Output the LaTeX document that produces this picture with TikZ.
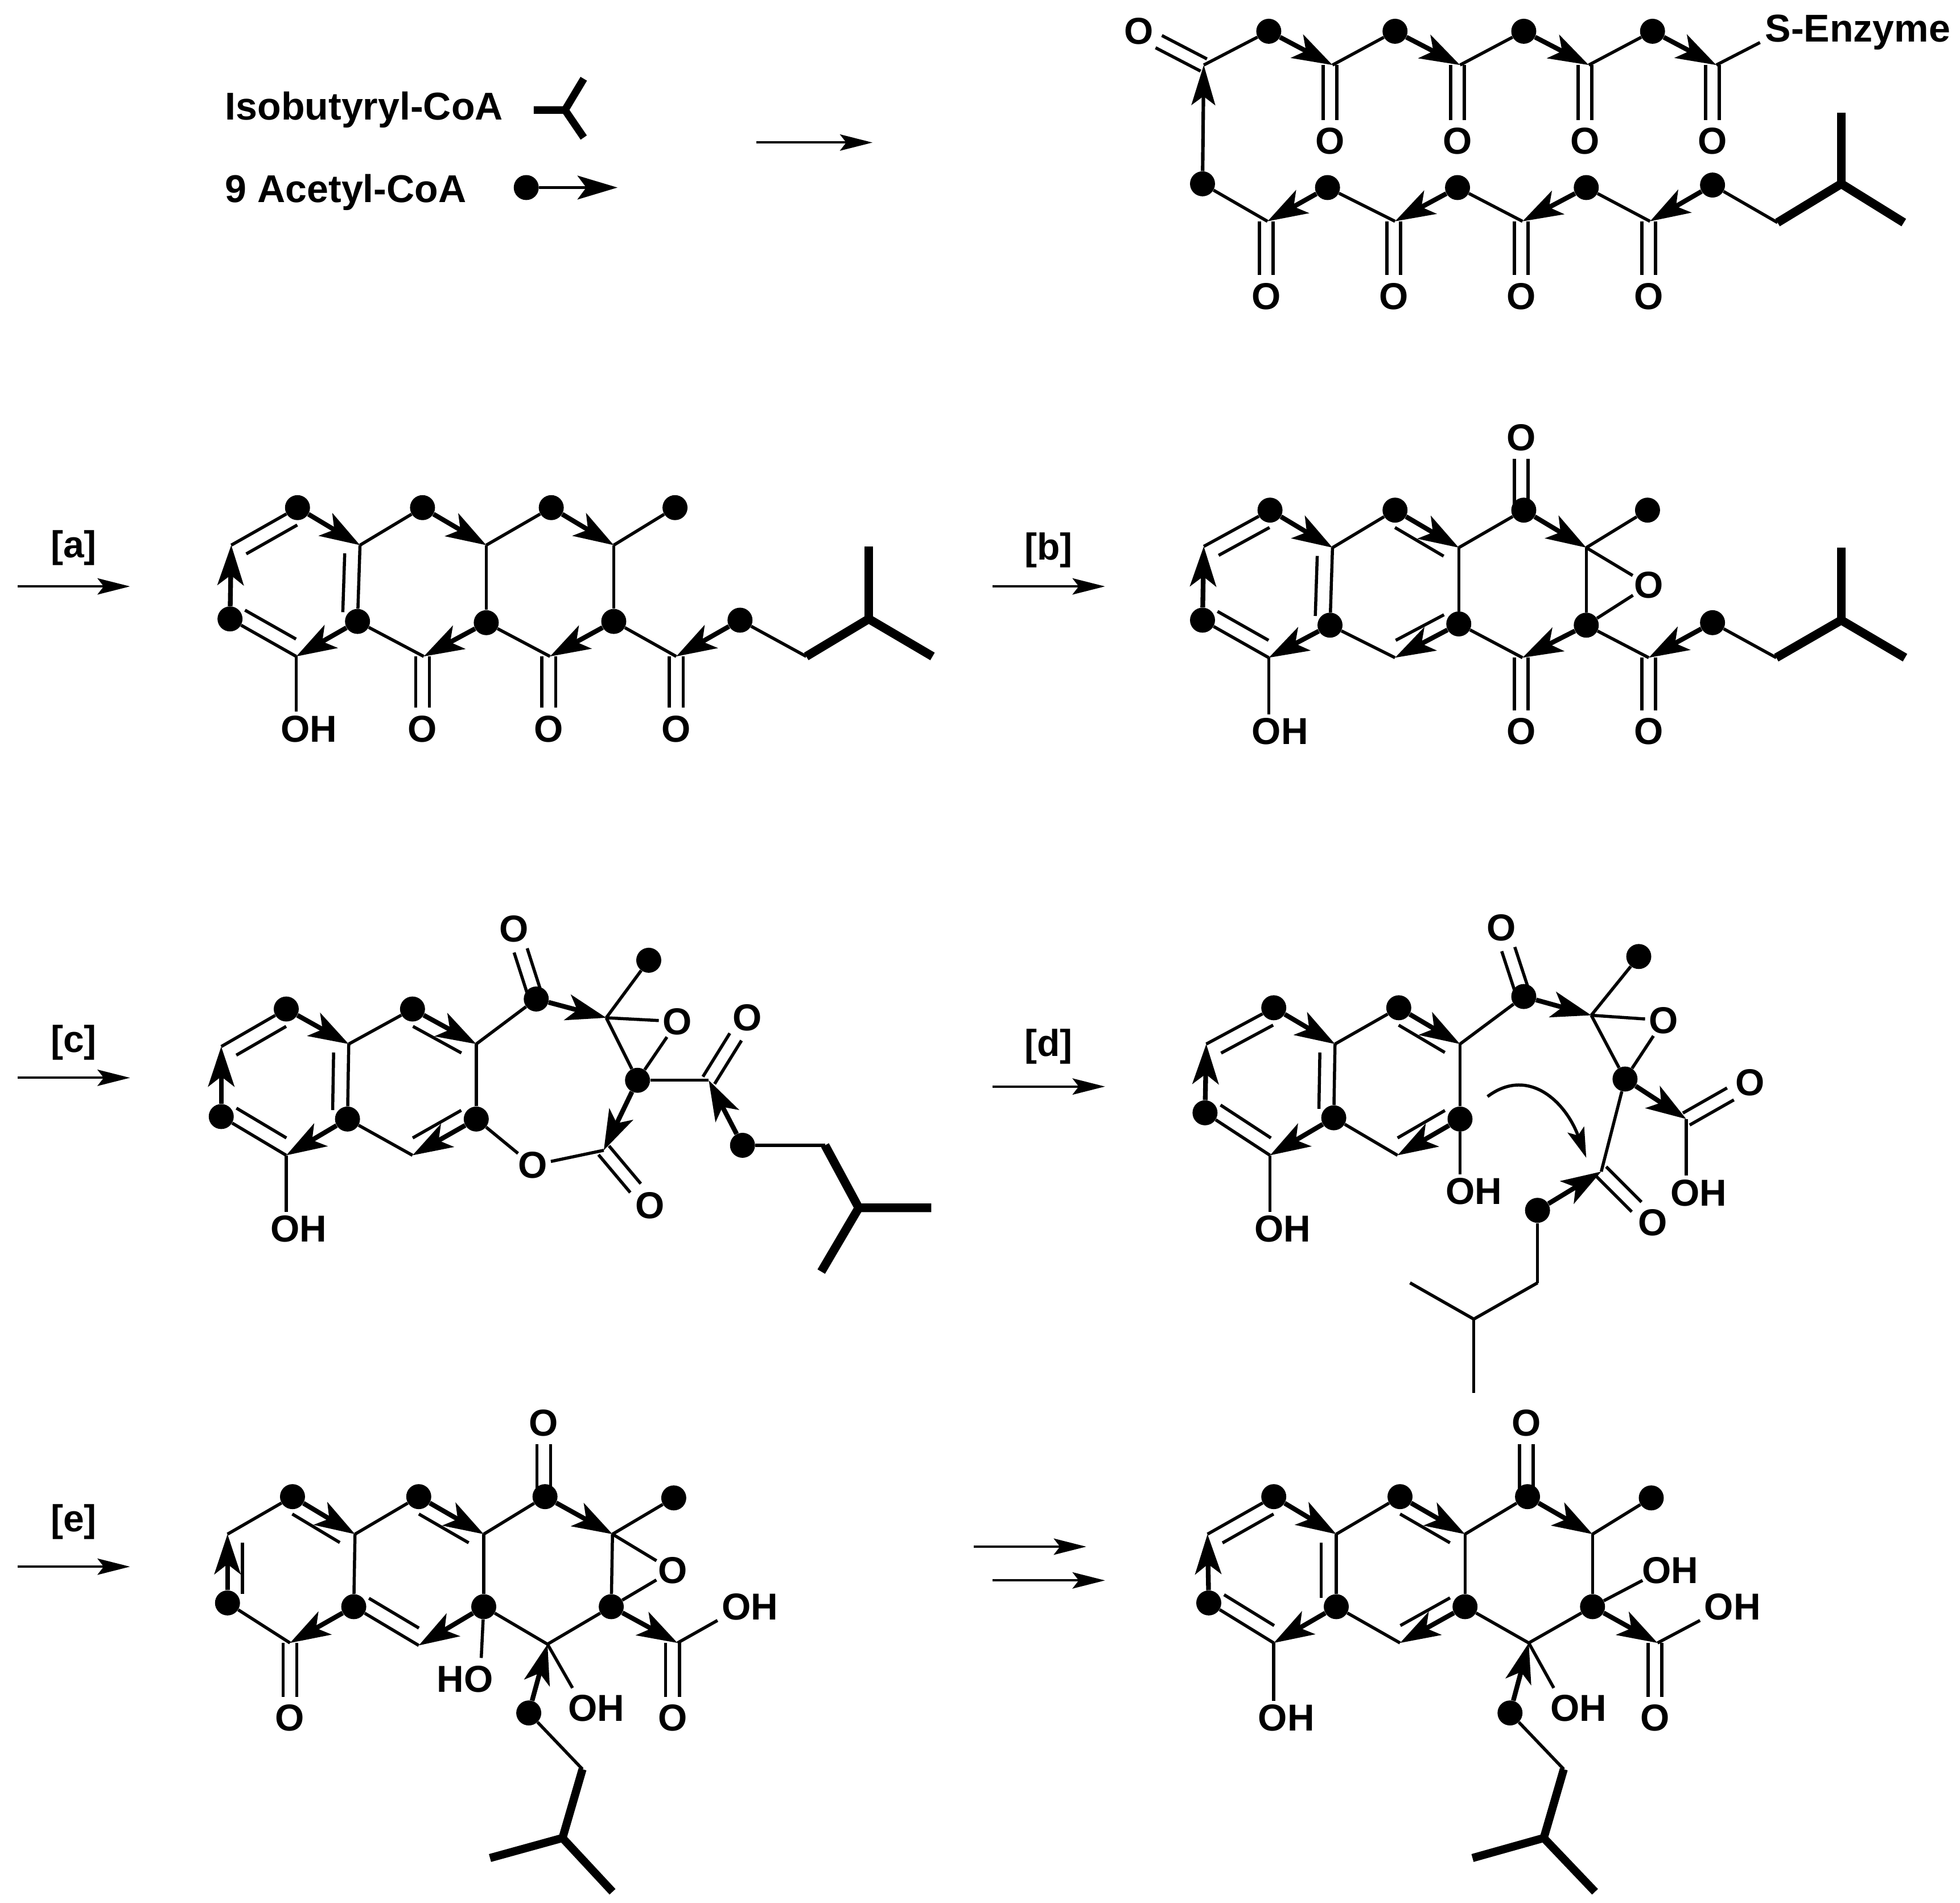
\documentclass[tikz,border=0pt]{standalone}
\usepackage{fontspec}
\setmainfont{Liberation Sans}
\usetikzlibrary{arrows.meta,calc}
\tikzset{
  bond/.style={line width=2.5pt},
  heavy/.style={line width=7pt,line join=miter},
  acet/.style={line width=3.8pt,-{Stealth[length=32pt,width=21pt,inset=8pt]}},
  rxn/.style={line width=1.9pt,-{Stealth[length=26pt,width=13pt,inset=5pt]}},
  dot/.style={circle,fill=black,inner sep=0pt,minimum size=20pt},
  lab/.style={font=\bfseries\fontsize{30}{30}\selectfont,inner sep=3pt},
  leg/.style={font=\bfseries\fontsize{31}{31}\selectfont,inner sep=0pt,anchor=west},
}
\newcommand\At[3]{\coordinate (#1) at (#2,#3);}
\newcommand\Dt[3]{\node[dot] (#1) at (#2,#3) {};}
\newcommand\Lb[4]{\node[lab] (#1) at (#2,#3) {#4};}
\newcommand\dblO[2]{%
  \draw[bond,shorten >=18pt] ($(#1)!5.5pt!90:(#2.center)$) -- ($(#2.center)!5.5pt!-90:(#1)$);
  \draw[bond,shorten >=18pt] ($(#1)!5.5pt!-90:(#2.center)$) -- ($(#2.center)!5.5pt!90:(#1)$);}
\newcommand\dblV[2]{%
  \draw[bond] ($(#2.center |- #1)+(-5.5,0)$) -- ($(#2.center)+(-5.5,-17)$);
  \draw[bond] ($(#2.center |- #1)+(5.5,0)$) -- ($(#2.center)+(5.5,-17)$);}
\newcommand\dblU[2]{%
  \draw[bond] ($(#2.center |- #1)+(-5.5,0)$) -- ($(#2.center)+(-5.5,17)$);
  \draw[bond] ($(#2.center |- #1)+(5.5,0)$) -- ($(#2.center)+(5.5,17)$);}
\newcommand\dblIn[2]{%
  \draw[bond,shorten >=7pt,shorten <=7pt] ($(#1)!12pt!90:(#2)$) -- ($(#2)!12pt!-90:(#1)$);}
\newcommand\bd[2]{\draw[bond] (#1) -- (#2);}
\newcommand\bl[2]{\draw[bond,shorten >=15pt] (#1) -- (#2.center);}
\newcommand\ar[2]{\draw[acet] (#1) -- (#2);}
\begin{document}
\begin{tikzpicture}[x=1pt,y=-1pt]
\useasboundingbox (0,0) rectangle (1568,1521.6);
% --- legend
\node[leg] (iso) at (180,88) {Isobutyryl-CoA};
\node[leg] (ace) at (180,154) {9 Acetyl-CoA};
\At{Y0}{427}{88}\At{Y1}{452}{88}\At{Y2}{467}{63}\At{Y3}{467}{110}
\draw[line width=6pt] (Y0) -- (Y1) -- (Y2);
\draw[line width=6pt] (Y1) -- (Y3);
\Dt{Ld}{421}{150}\At{Le}{494}{150}
\draw[line width=2.6pt,-{Stealth[length=32pt,width=19pt,inset=7pt]}] (Ld) -- (Le);
\At{R0a}{605}{114}\At{R0b}{698}{114}\draw[rxn] (R0a) -- (R0b);
% --- reaction arrows
\Lb{La}{59}{438}{[a]}\At{Raa}{14}{469}\At{Rab}{104}{469}\draw[rxn] (Raa) -- (Rab);
\Lb{Lb}{839}{440}{[b]}\At{Rba}{794}{469}\At{Rbb}{884}{469}\draw[rxn] (Rba) -- (Rbb);
\Lb{Lc}{59}{834}{[c]}\At{Rca}{14}{862}\At{Rcb}{104}{862}\draw[rxn] (Rca) -- (Rcb);
\Lb{Ldd}{839}{837}{[d]}\At{Rda}{794}{869}\At{Rdb}{884}{869}\draw[rxn] (Rda) -- (Rdb);
\Lb{Le2}{59}{1217}{[e]}\At{Rea}{14}{1253}\At{Reb}{104}{1253}\draw[rxn] (Rea) -- (Reb);
\At{Rfa}{779}{1237}\At{Rfb}{869}{1237}\draw[rxn] (Rfa) -- (Rfb);
\At{Rga}{794}{1264}\At{Rgb}{884}{1264}\draw[rxn] (Rga) -- (Rgb);
% --- top chain T
\Lb{TO0}{911}{25}{O}\Lb{TO1}{1064}{113}{O}\Lb{TO2}{1166}{113}{O}\Lb{TO3}{1268}{113}{O}\Lb{TO4}{1370}{113}{O}
\node[leg] (TS) at (1412,26) {S-Enzyme};
\At{T0}{963}{52}\Dt{T1}{1015}{25}\At{T2}{1066}{52}\Dt{T3}{1116}{25}\At{T4}{1168}{52}\Dt{T5}{1219}{25}\At{T6}{1271}{52}\Dt{T7}{1322}{25}\At{T8}{1373}{52}\At{T9}{1408}{34}
\dblO{T0}{TO0}\dblV{T2}{TO1}\dblV{T4}{TO2}\dblV{T6}{TO3}\dblV{T8}{TO4}
\bd{T0}{T1}\bd{T2}{T3}\bd{T4}{T5}\bd{T6}{T7}\bd{T8}{T9}
\ar{T1}{T2}\ar{T3}{T4}\ar{T5}{T6}\ar{T7}{T8}
\Dt{U0}{962}{147}\draw[line width=2.8pt,-{Stealth[length=32pt,width=19pt,inset=7pt]}] (U0) -- (T0);
\Lb{UO1}{1013}{237}{O}\Lb{UO2}{1115}{237}{O}\Lb{UO3}{1217}{237}{O}\Lb{UO4}{1319}{237}{O}
\At{U1}{1014}{177}\Dt{U2}{1062}{150}\At{U3}{1116}{177}\Dt{U4}{1166}{150}\At{U5}{1218}{177}\Dt{U6}{1269}{150}\At{U7}{1320}{177}\Dt{U8}{1370}{148}\At{U9}{1422}{178}\At{U10}{1473}{147}\At{U11}{1473}{90}\At{U12}{1523}{178}
\dblV{U1}{UO1}\dblV{U3}{UO2}\dblV{U5}{UO3}\dblV{U7}{UO4}
\bd{U0}{U1}\bd{U2}{U3}\bd{U4}{U5}\bd{U6}{U7}\bd{U8}{U9}
\ar{U2}{U1}\ar{U4}{U3}\ar{U6}{U5}\ar{U8}{U7}
\draw[heavy] (U9) -- (U10) -- (U12);\draw[heavy] (U10) -- (U11);
% --- molecule A
\Lb{AOH}{247}{583}{OH}\Lb{AO1}{338}{583}{O}\Lb{AO2}{439}{583}{O}\Lb{AO3}{541}{583}{O}
\At{A1}{185}{436}\Dt{A2}{238}{406}\At{A3}{288}{436}\Dt{A4}{338}{406}\At{A5}{389}{436}\Dt{A6}{441}{406}\At{A7}{491}{436}\Dt{A8}{540}{406}
\Dt{A9}{184}{495}\At{A10}{237}{525}\Dt{A11}{286}{497}\At{A12}{339}{525}\Dt{A13}{389}{498}\At{A14}{440}{525}\Dt{A15}{491}{497}\At{A16}{541}{525}\Dt{A17}{592}{496}\At{A18}{645}{525}\At{A19}{695}{495}\At{A20}{695}{437}\At{A21}{746}{525}
\bd{A1}{A2}\bd{A3}{A4}\bd{A5}{A6}\bd{A7}{A8}\bd{A3}{A11}\bd{A5}{A13}\bd{A7}{A15}\bd{A9}{A10}\bd{A11}{A12}\bd{A13}{A14}\bd{A15}{A16}\bd{A17}{A18}
\dblIn{A2}{A1}\dblIn{A9}{A10}\dblIn{A11}{A3}
\draw[bond] (A10) -- (A10 |- AOH.north);
\dblV{A12}{AO1}\dblV{A14}{AO2}\dblV{A16}{AO3}
\ar{A2}{A3}\ar{A4}{A5}\ar{A6}{A7}\ar{A9}{A1}\ar{A11}{A10}\ar{A13}{A12}\ar{A15}{A14}\ar{A17}{A16}
\draw[heavy] (A18) -- (A19) -- (A21);\draw[heavy] (A19) -- (A20);
% --- molecule B
\Lb{BOH}{1024}{585}{OH}\Lb{BOt}{1217}{350}{O}\Lb{BO2}{1217}{585}{O}\Lb{BO3}{1319}{585}{O}\Lb{BE}{1319}{468}{O}
\At{B1}{963}{437}\Dt{B2}{1016}{408}\At{B3}{1066}{438}\Dt{B4}{1116}{408}\At{B5}{1167}{438}\Dt{B6}{1219}{408}\At{B7}{1269}{438}\Dt{B8}{1318}{408}
\Dt{B9}{962}{496}\At{B10}{1015}{526}\Dt{B11}{1064}{500}\At{B12}{1116}{526}\Dt{B13}{1167}{499}\At{B14}{1218}{526}\Dt{B15}{1269}{500}\At{B16}{1319}{526}\Dt{B17}{1370}{498}\At{B18}{1421}{526}\At{B19}{1473}{496}\At{B20}{1473}{438}\At{B21}{1524}{526}
\bd{B1}{B2}\bd{B3}{B4}\bd{B5}{B6}\bd{B7}{B8}\bd{B3}{B11}\bd{B5}{B13}\bd{B7}{B15}\bd{B9}{B10}\bd{B11}{B12}\bd{B13}{B14}\bd{B15}{B16}\bd{B17}{B18}
\dblIn{B2}{B1}\dblIn{B9}{B10}\dblIn{B11}{B3}\dblIn{B5}{B4}\dblIn{B12}{B13}
\draw[bond] (B10) -- (B10 |- BOH.north);
\dblU{B6}{BOt}\dblV{B14}{BO2}\dblV{B16}{BO3}
\bl{B7}{BE}\bl{B15}{BE}
\ar{B2}{B3}\ar{B4}{B5}\ar{B6}{B7}\ar{B9}{B1}\ar{B11}{B10}\ar{B13}{B12}\ar{B15}{B14}\ar{B17}{B16}
\draw[heavy] (B18) -- (B19) -- (B21);\draw[heavy] (B19) -- (B20);
% --- molecule C
\Lb{COH}{239}{983}{OH}\Lb{CO1}{411}{743}{O}\Lb{CE}{542}{817}{O}\Lb{CLO}{426}{932}{O}\Lb{CO2}{520}{964}{O}\Lb{CO3}{598}{814}{O}
\At{C1}{177}{837}\Dt{C2}{229}{807}\At{C3}{279}{835}\Dt{C4}{330}{807}\At{C5}{381}{835}
\Dt{C9}{177}{893}\At{C10}{229}{924}\Dt{C11}{278}{895}\At{C12}{330}{924}\Dt{C13}{381}{895}
\Dt{C6}{429}{799}\At{C7}{485}{814}\Dt{C8}{519}{768}\Dt{C14}{510}{864}\At{C15}{483}{920}\At{C16}{567}{864}\Dt{C17}{594}{916}\At{C18}{660}{916}\At{C19}{687}{966}\At{C20}{745}{966}\At{C21}{657}{1017}
\bd{C1}{C2}\bd{C3}{C4}\bd{C3}{C11}\bd{C5}{C13}\bd{C9}{C10}\bd{C11}{C12}\bd{C5}{C6}\bd{C7}{C8}\bd{C7}{C14}\bd{C14}{C16}\bd{C17}{C18}
\dblIn{C2}{C1}\dblIn{C9}{C10}\dblIn{C11}{C3}\dblIn{C5}{C4}\dblIn{C12}{C13}
\draw[bond] (C10) -- (C10 |- COH.north);
\dblO{C6}{CO1}\dblO{C15}{CO2}\dblO{C16}{CO3}
\bl{C7}{CE}\bl{C14}{CE}\bl{C13}{CLO}\bl{C15}{CLO}
\ar{C2}{C3}\ar{C4}{C5}\ar{C6}{C7}\ar{C9}{C1}\ar{C11}{C10}\ar{C13}{C12}\ar{C14}{C15}\ar{C17}{C16}
\draw[heavy] (C18) -- (C19) -- (C20);\draw[heavy] (C19) -- (C21);
% --- molecule D
\Lb{DOH}{1026}{983}{OH}\Lb{DOH2}{1179}{953}{OH}\Lb{DO1}{1201}{742}{O}\Lb{DE}{1331}{816}{O}\Lb{DO2}{1400}{866}{O}\Lb{DOH3}{1359}{954}{OH}\Lb{DO3}{1322}{978}{O}
\At{D1}{965}{835}\Dt{D2}{1019}{806}\At{D3}{1068}{835}\Dt{D4}{1119}{806}\At{D5}{1168}{835}
\Dt{D9}{964}{890}\At{D10}{1016}{924}\Dt{D11}{1067}{894}\At{D12}{1118}{924}\Dt{D13}{1168}{895}
\Dt{D6}{1219}{797}\At{D7}{1273}{812}\Dt{D8}{1311}{765}\Dt{D14}{1300}{863}\At{D15}{1349}{895}\At{D16}{1281}{937}\Dt{D17}{1230}{968}\At{D18}{1230}{1026}\At{D19}{1179}{1055}\At{D20}{1128}{1026}\At{D21}{1179}{1114}
\At{Dc1}{1190}{877}\At{Dc2}{1269}{926}
\bd{D1}{D2}\bd{D3}{D4}\bd{D3}{D11}\bd{D5}{D13}\bd{D9}{D10}\bd{D11}{D12}\bd{D5}{D6}\bd{D7}{D8}\bd{D7}{D14}\bd{D14}{D16}\bd{D17}{D18}
\draw[bond] (D18) -- (D19) -- (D20);\bd{D19}{D21}
\dblIn{D2}{D1}\dblIn{D9}{D10}\dblIn{D11}{D3}\dblIn{D5}{D4}\dblIn{D12}{D13}
\draw[bond] (D10) -- (D10 |- DOH.north);
\draw[bond] (D13) -- (D13 |- DOH2.north);
\draw[bond] (D15) -- (D15 |- DOH3.north);
\dblO{D6}{DO1}\dblO{D15}{DO2}\dblO{D16}{DO3}
\bl{D7}{DE}\bl{D14}{DE}
\ar{D2}{D3}\ar{D4}{D5}\ar{D6}{D7}\ar{D9}{D1}\ar{D11}{D10}\ar{D13}{D12}\ar{D14}{D15}\ar{D17}{D16}
\draw[bond,-{Stealth[length=24pt,width=14pt,inset=5pt]}] (Dc1) .. controls (1222,853) and (1252,880) .. (Dc2);
% --- molecule E
\Lb{EO0}{435}{1138}{O}\Lb{EO1}{232}{1374}{O}\Lb{EE}{538}{1256}{O}\Lb{EO2}{538}{1374}{O}\Lb{EOH1}{600}{1285}{OH}\Lb{EHO}{372}{1343}{HO}\Lb{EOH2}{477}{1366}{OH}
\At{E1}{182}{1227}\Dt{E2}{234}{1197}\At{E3}{284}{1227}\Dt{E4}{335}{1197}\At{E5}{387}{1227}\Dt{E6}{436}{1197}\At{E7}{490}{1227}\Dt{E8}{539}{1198}
\Dt{E9}{182}{1282}\At{E10}{232}{1314}\Dt{E11}{283}{1285}\At{E12}{335}{1316}\Dt{E13}{387}{1285}\At{E14}{438}{1315}\Dt{E15}{489}{1285}\At{E16}{542}{1314}
\At{Ee1}{574}{1296}\At{Ee2}{385}{1326}\At{Ee3}{458}{1350}
\Dt{E17}{423}{1370}\At{E18}{466}{1415}\At{E19}{450}{1470}\At{E20}{392}{1486}\At{E21}{490}{1513}
\bd{E1}{E2}\bd{E3}{E4}\bd{E5}{E6}\bd{E7}{E8}\bd{E3}{E11}\bd{E5}{E13}\bd{E7}{E15}\bd{E9}{E10}\bd{E11}{E12}\bd{E13}{E14}\bd{E15}{E14}\bd{E16}{Ee1}\bd{E13}{Ee2}\bd{E14}{Ee3}\bd{E17}{E18}
\dblIn{E1}{E9}\dblIn{E3}{E2}\dblIn{E5}{E4}\dblIn{E11}{E12}
\dblU{E6}{EO0}\dblV{E10}{EO1}\dblV{E16}{EO2}
\bl{E7}{EE}\bl{E15}{EE}
\ar{E2}{E3}\ar{E4}{E5}\ar{E6}{E7}\ar{E9}{E1}\ar{E11}{E10}\ar{E13}{E12}\ar{E15}{E16}\ar{E17}{E14}
\draw[line width=6.5pt] (E18) -- (E19) -- (E20);\draw[line width=6.5pt] (E19) -- (E21);
% --- molecule F
\Lb{FO0}{1221}{1138}{O}\Lb{FOH0}{1029}{1374}{OH}\Lb{FO2}{1324}{1374}{O}\Lb{FOH1}{1386}{1285}{OH}\Lb{FOH2}{1336}{1256}{OH}\Lb{FOH3}{1263}{1366}{OH}
\At{F1}{966}{1227}\Dt{F2}{1019}{1197}\At{F3}{1069}{1227}\Dt{F4}{1120}{1197}\At{F5}{1172}{1227}\Dt{F6}{1222}{1197}\At{F7}{1274}{1227}\Dt{F8}{1321}{1198}
\Dt{F9}{967}{1282}\At{F10}{1019}{1314}\Dt{F11}{1069}{1285}\At{F12}{1120}{1314}\Dt{F13}{1172}{1285}\At{F14}{1223}{1314}\Dt{F15}{1274}{1285}\At{F16}{1326}{1314}
\At{Fe1}{1360}{1296}\At{Fe2}{1314}{1264}\At{Fe3}{1243}{1350}
\Dt{F17}{1208}{1370}\At{F18}{1251}{1415}\At{F19}{1235}{1470}\At{F20}{1178}{1486}\At{F21}{1276}{1513}
\bd{F1}{F2}\bd{F3}{F4}\bd{F5}{F6}\bd{F7}{F8}\bd{F3}{F11}\bd{F5}{F13}\bd{F7}{F15}\bd{F9}{F10}\bd{F11}{F12}\bd{F13}{F14}\bd{F15}{F14}\bd{F16}{Fe1}\bd{F15}{Fe2}\bd{F14}{Fe3}\bd{F17}{F18}
\dblIn{F2}{F1}\dblIn{F9}{F10}\dblIn{F11}{F3}\dblIn{F5}{F4}\dblIn{F12}{F13}
\draw[bond] (F10) -- (F10 |- FOH0.north);
\dblU{F6}{FO0}\dblV{F16}{FO2}
\ar{F2}{F3}\ar{F4}{F5}\ar{F6}{F7}\ar{F9}{F1}\ar{F11}{F10}\ar{F13}{F12}\ar{F15}{F16}\ar{F17}{F14}
\draw[line width=6.5pt] (F18) -- (F19) -- (F20);\draw[line width=6.5pt] (F19) -- (F21);
\end{tikzpicture}
\end{document}
